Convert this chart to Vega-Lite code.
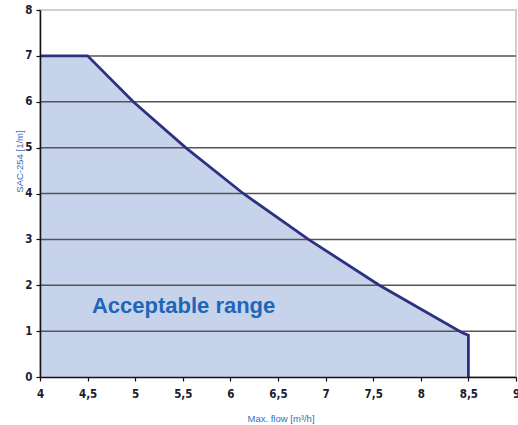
{
  "$schema": "https://vega.github.io/schema/vega-lite/v6.json",
  "width": 476,
  "height": 367,
  "autosize": {"type": "none"},
  "padding": {"left": 40, "top": 10, "right": 2, "bottom": 48},
  "background": "white",
  "config": {
    "view": {"stroke": "#cfcfcf", "strokeWidth": 2},
    "axis": {
      "labelFont": "Liberation Sans Narrow, DejaVu Sans Condensed",
      "labelFontWeight": "bold",
      "labelFontSize": 11.5,
      "labelColor": "#1c1c30",
      "domainColor": "#111111",
      "domainWidth": 1.5,
      "tickColor": "#111111",
      "tickWidth": 1.2,
      "tickSize": 4,
      "titleFont": "Liberation Sans",
      "titleFontWeight": "normal",
      "titleFontSize": 9.5,
      "titleColor": "#3a6db5"
    }
  },
  "datasets": {
    "curve": [
      {"i": 0, "flow": 4.0, "sac": 7.0},
      {"i": 1, "flow": 4.5, "sac": 7.0},
      {"i": 2, "flow": 4.98, "sac": 6.0},
      {"i": 3, "flow": 5.53, "sac": 5.0},
      {"i": 4, "flow": 6.135, "sac": 4.0},
      {"i": 5, "flow": 6.82, "sac": 3.0},
      {"i": 6, "flow": 7.565, "sac": 2.0},
      {"i": 7, "flow": 8.43, "sac": 0.97},
      {"i": 8, "flow": 8.5, "sac": 0.91},
      {"i": 9, "flow": 8.5, "sac": 0.0}
    ],
    "grid": [
      {"sac": 1}, {"sac": 2}, {"sac": 3}, {"sac": 4}, {"sac": 5}, {"sac": 6}, {"sac": 7}
    ]
  },
  "layer": [
    {
      "data": {"name": "curve"},
      "mark": {"type": "area", "color": "#c7d3eb", "opacity": 1},
      "encoding": {
        "x": {
          "field": "flow", "type": "quantitative",
          "scale": {"domain": [4, 9], "nice": false, "zero": false},
          "axis": {
            "values": [4, 4.5, 5, 5.5, 6, 6.5, 7, 7.5, 8, 8.5, 9],
            "labelExpr": "replace(format(datum.value, '~g'), '.', ',')",
            "labelFlush": false,
            "grid": false,
            "zindex": 1,
            "labelPadding": 7,
            "title": "Max. flow [m³/h]",
            "titleBaseline": "alphabetic",
            "titleY": 44,
            "titleX": 207,
            "titleAnchor": "start",
            "titleAlign": "left"
          }
        },
        "y": {
          "field": "sac", "type": "quantitative",
          "scale": {"domain": [0, 8], "nice": false},
          "axis": {
            "values": [0, 1, 2, 3, 4, 5, 6, 7, 8],
            "grid": false,
            "zindex": 1,
            "labelFlush": false,
            "labelPadding": 4,
            "title": "SAC-254  [1/m]",
            "titleX": -21,
            "titleY": 151,
            "titleAngle": -90,
            "titleAlign": "center",
            "titleBaseline": "middle"
          }
        },
        "y2": {"datum": 0}
      }
    },
    {
      "data": {"name": "grid"},
      "mark": {"type": "rule", "color": "#555555", "strokeWidth": 1.5},
      "encoding": {
        "y": {"field": "sac", "type": "quantitative"}
      }
    },
    {
      "data": {"name": "curve"},
      "mark": {"type": "line", "color": "#2e3182", "strokeWidth": 2.8, "strokeJoin": "miter"},
      "encoding": {
        "x": {"field": "flow", "type": "quantitative"},
        "y": {"field": "sac", "type": "quantitative"},
        "order": {"field": "i", "type": "quantitative"}
      }
    },
    {
      "data": {"values": [{"flow": 4.545, "sac": 1.54, "label": "Acceptable range"}]},
      "mark": {
        "type": "text",
        "align": "left",
        "baseline": "middle",
        "font": "Liberation Sans",
        "fontWeight": "bold",
        "fontSize": 22,
        "color": "#1e66b8"
      },
      "encoding": {
        "x": {"field": "flow", "type": "quantitative"},
        "y": {"field": "sac", "type": "quantitative"},
        "text": {"field": "label"}
      }
    }
  ]
}
